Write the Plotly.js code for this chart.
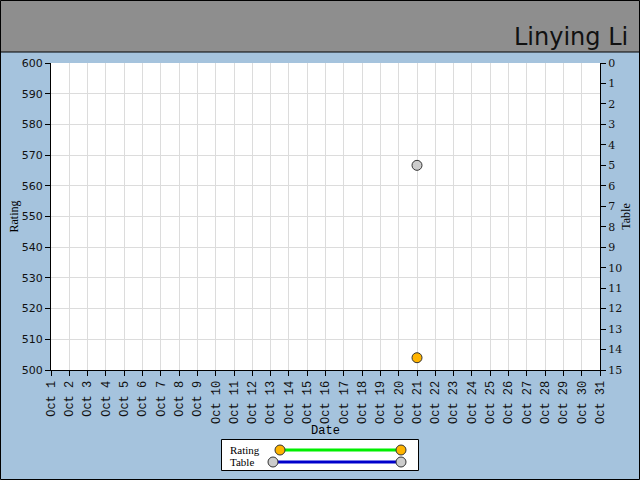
<!DOCTYPE html>
<html>
<head>
<meta charset="utf-8">
<script src="https://cdn.plot.ly/plotly-3.0.1.min.js"></script>
<style>
body { margin: 0; }
#chart { width: 640px; height: 480px; }
</style>
</head>
<body>
<div id="chart"></div>
<script>
// data
var ratingDates = [ '2013-10-21' ];
var ratingValues = [ 504 ];
var tableDates = [ '2013-10-21' ];
var tableValues = [ 5 ];
var seriesNames = [ 'Rating', 'Table' ];
var pageTitle = 'Linying Li';

var bgBlue = '#a5c3dd';
var headerGray = '#8e8e8e';
var ratingLine = '#00ee00';
var ratingFill = '#ffb400';
var tableLine = '#0000cc';
var tableFill = '#cccccc';

// pixel -> paper helpers (plot area is 51..600 x 63..370)
function px(x) { return (x - 51) / 549; }
function py(y) { return (370 - y) / 307; }

var traces = [ {
	x : ratingDates,
	y : ratingValues,
	name : seriesNames[0],
	type : 'scatter',
	mode : 'lines+markers',
	line : { color : ratingLine, width : 3 },
	marker : { color : ratingFill, size : 10, line : { color : '#333', width : 1 } },
	cliponaxis : false
}, {
	x : tableDates,
	y : tableValues,
	name : seriesNames[1],
	yaxis : 'y2',
	type : 'scatter',
	mode : 'lines+markers',
	line : { color : tableLine, width : 3 },
	marker : { color : tableFill, size : 10, line : { color : '#333', width : 1 } },
	cliponaxis : false
} ];

function legendDot(x, y, fill) {
	return {
		type : 'circle', xref : 'paper', yref : 'paper',
		xsizemode : 'pixel', ysizemode : 'pixel',
		xanchor : px(x), yanchor : py(y),
		x0 : -5, x1 : 5, y0 : -5, y1 : 5,
		fillcolor : fill, line : { color : '#333', width : 1 }
	};
}

var shapes = [
	// header band
	{ type : 'rect', xref : 'paper', yref : 'paper', x0 : px(-2), x1 : px(642), y0 : py(52), y1 : py(-2),
		fillcolor : headerGray, line : { color : '#000', width : 1 }, layer : 'below' },
	// outer frame
	{ type : 'rect', xref : 'paper', yref : 'paper', x0 : px(0.5), x1 : px(639.5), y0 : py(479.5), y1 : py(0.5),
		line : { color : '#000', width : 1 } },
	// legend box
	{ type : 'rect', xref : 'paper', yref : 'paper', x0 : px(221.5), x1 : px(418.5), y0 : py(470.5), y1 : py(439.5),
		fillcolor : '#fff', line : { color : '#000', width : 1 } },
	{ type : 'line', xref : 'paper', yref : 'paper', x0 : px(280), x1 : px(401), y0 : py(450), y1 : py(450),
		line : { color : ratingLine, width : 3 } },
	{ type : 'line', xref : 'paper', yref : 'paper', x0 : px(273), x1 : px(401), y0 : py(462), y1 : py(462),
		line : { color : tableLine, width : 3 } },
	legendDot(280, 450, ratingFill),
	legendDot(401, 450, ratingFill),
	legendDot(273, 462, tableFill),
	legendDot(401, 462, tableFill)
];

var serif = 'Liberation Serif, serif';
var mono = 'Liberation Mono, monospace';

var annotations = [ {
	text : pageTitle, xref : 'paper', yref : 'paper', x : px(630), y : py(37),
	xanchor : 'right', yanchor : 'middle', showarrow : false,
	font : { family : 'DejaVu Sans', size : 24, color : '#111' }
}, {
	text : seriesNames[0], xref : 'paper', yref : 'paper', x : px(228), y : py(450),
	xanchor : 'left', yanchor : 'middle', showarrow : false,
	font : { family : serif, size : 11, color : '#000' }
}, {
	text : seriesNames[1], xref : 'paper', yref : 'paper', x : px(228), y : py(462),
	xanchor : 'left', yanchor : 'middle', showarrow : false,
	font : { family : serif, size : 11, color : '#000' }
} ];

var layout = {
	width : 640,
	height : 480,
	margin : { l : 51, r : 40, t : 63, b : 110 },
	paper_bgcolor : bgBlue,
	plot_bgcolor : '#fff',
	showlegend : false,
	xaxis : {
		type : 'date',
		range : [ '2013-10-01', '2013-10-31' ],
		dtick : 86400000,
		tick0 : '2013-10-01',
		tickformat : '%b %-d',
		tickangle : -90,
		tickfont : { family : mono, size : 12, color : '#111' },
		ticks : 'outside', ticklen : 5, tickcolor : '#000',
		showline : true, linecolor : '#000', linewidth : 1,
		showgrid : true, gridcolor : '#dcdcdc',
		zeroline : false,
		title : { text : 'Date', font : { family : mono, size : 12, color : '#000' }, standoff : 0 }
	},
	yaxis : {
		range : [ 500, 600 ],
		dtick : 10,
		tickfont : { family : 'DejaVu Sans', size : 11, color : '#111' },
		ticks : 'outside', ticklen : 5, tickcolor : '#000',
		showline : true, linecolor : '#000', linewidth : 1,
		showgrid : true, gridcolor : '#dcdcdc',
		zeroline : false,
		title : { text : 'Rating', font : { family : serif, size : 12, color : '#000' }, standoff : 0 }
	},
	yaxis2 : {
		range : [ 15, 0 ],
		dtick : 1,
		overlaying : 'y',
		side : 'right',
		tickfont : { family : 'DejaVu Serif', size : 11, color : '#111' },
		ticks : 'outside', ticklen : 5, tickcolor : '#000',
		showline : true, linecolor : '#000', linewidth : 1,
		showgrid : false,
		zeroline : false,
		title : { text : 'Table', font : { family : serif, size : 12, color : '#000' }, standoff : 0 }
	},
	shapes : shapes,
	annotations : annotations
};

Plotly.newPlot('chart', traces, layout, { staticPlot : true });
</script>
</body>
</html>
